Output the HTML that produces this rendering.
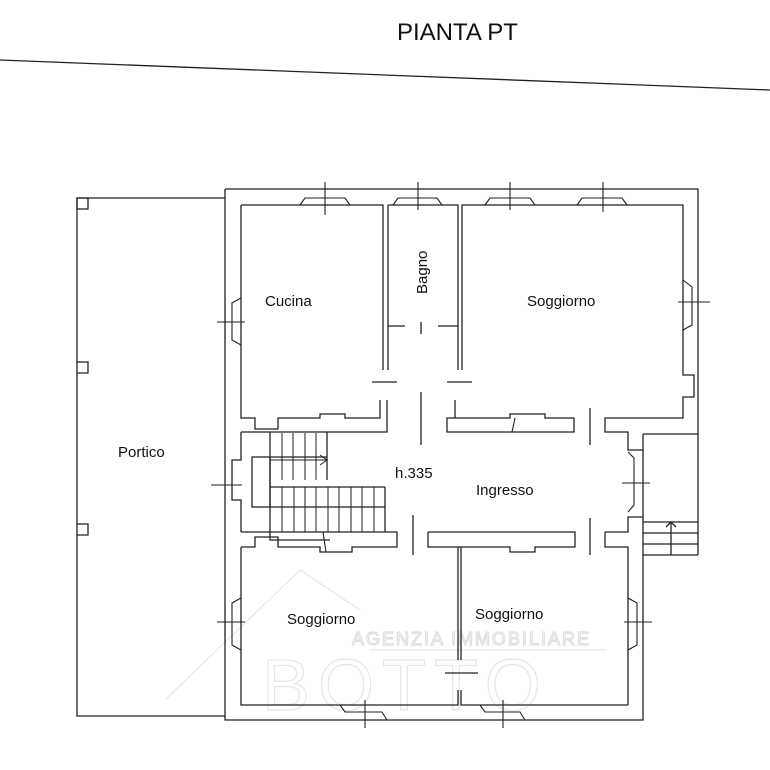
<!DOCTYPE html><html><head><style>body{margin:0;background:#fff}svg{display:block}text{font-family:"Liberation Sans",sans-serif;fill:#111}</style></head><body>
<svg width="770" height="770" viewBox="0 0 770 770" xmlns="http://www.w3.org/2000/svg">
<g fill="none" stroke="#e6e6e6" stroke-width="1.2">
<text x="352" y="645" font-size="18" style="fill:none;stroke:#e0e0e0;letter-spacing:2px">AGENZIA IMMOBILIARE</text>
<line x1="370" y1="650" x2="606" y2="650"/>
<text x="262" y="710" font-size="72" style="fill:none;stroke:#e6e6e6;letter-spacing:8px">BOTTO</text>
<polyline points="165,700 300,570 360,610"/>
</g>
<text x="397" y="40" font-size="24">PIANTA PT</text>
<line x1="0" y1="60" x2="770" y2="90" stroke="#222" stroke-width="1.3"/>
<g fill="none" stroke="#222" stroke-width="1.3">
<polyline points="225,198 77,198 77,716 225,716"/>
<rect x="77" y="198" width="11" height="11"/>
<polyline points="77,362 88,362 88,373 77,373"/>
<polyline points="77,524 88,524 88,535 77,535"/>
<polyline points="225,189 698,189 698,555"/>
<polyline points="225,189 225,720 643,720 643,434"/>
<polyline points="643,434 698,434"/>
<line x1="643" y1="522" x2="698" y2="522"/><line x1="643" y1="533" x2="698" y2="533"/><line x1="643" y1="544" x2="698" y2="544"/><line x1="643" y1="555" x2="698" y2="555"/>
<line x1="671" y1="522" x2="671" y2="555"/><polyline points="666,527 671,522 676,527"/>
<polyline points="241,205 383,205 383,370"/>
<polyline points="241,205 241,418 255,418 255,429 278,429 278,418 320,418 320,414 345,414 345,418 380,418 380,400"/>
<polyline points="241,432 387,432 387,400"/>
<polyline points="388,205 388,370"/>
<polyline points="388,205 458,205 458,370"/>
<polyline points="388,326 405,326"/><polyline points="438,326 458,326"/>
<line x1="421" y1="322" x2="421" y2="334"/>
<line x1="372" y1="382" x2="397" y2="382"/><line x1="447" y1="382" x2="472" y2="382"/>
<line x1="421" y1="392" x2="421" y2="445"/>
<polyline points="462,370 462,205 683,205 683,375 694,375 694,397 683,397 683,418 605,418 605,432 628,432 628,450 643,450"/>
<polyline points="455,400 455,418 510,418 510,414 545,414 545,418 574,418 574,432 447,432 447,418 455,418"/>
<line x1="590" y1="408" x2="590" y2="445"/>
<polyline points="241,432 241,460 232,460 232,500 241,500 241,532"/>
<rect x="252" y="457" width="18" height="50"/>
<polyline points="270,432 270,540 330,540"/>
<line x1="270" y1="457" x2="327" y2="457"/>
<line x1="270" y1="487" x2="385" y2="487"/>
<line x1="270" y1="507" x2="385" y2="507"/>
<line x1="327" y1="432" x2="327" y2="480"/>
<line x1="385" y1="487" x2="385" y2="532"/>
<g stroke-width="1">
<line x1="282" y1="433" x2="282" y2="480"/><line x1="293" y1="433" x2="293" y2="480"/><line x1="305" y1="433" x2="305" y2="480"/><line x1="316" y1="433" x2="316" y2="480"/>
<line x1="282" y1="487" x2="282" y2="532"/><line x1="294" y1="487" x2="294" y2="532"/><line x1="305" y1="487" x2="305" y2="532"/><line x1="316" y1="487" x2="316" y2="532"/><line x1="328" y1="487" x2="328" y2="532"/><line x1="339" y1="487" x2="339" y2="532"/><line x1="351" y1="487" x2="351" y2="532"/><line x1="362" y1="487" x2="362" y2="532"/><line x1="374" y1="487" x2="374" y2="532"/>
<polyline points="270,460 327,460"/><polyline points="320,455 327,460 320,465"/>
</g>
<line x1="413" y1="515" x2="413" y2="555"/>
<polyline points="241,532 397,532 397,547 352,547 352,552 320,552 320,547 278,547 278,537 255,537 255,547 241,547"/>
<polyline points="428,532 575,532 575,547 535,547 535,552 510,552 510,547 461,547 458,547 428,547 428,532"/>
<polyline points="605,532 628,532 628,517 643,517"/>
<polyline points="605,532 605,547 628,547 628,705"/>
<line x1="590" y1="518" x2="590" y2="555"/>
<polyline points="241,547 241,705 458,705 458,690"/>
<polyline points="461,690 461,705 628,705"/>
<line x1="458" y1="547" x2="458" y2="660"/><line x1="461" y1="547" x2="461" y2="660"/>
<line x1="445" y1="673" x2="478" y2="673"/>
<g stroke-width="1.1">
<polyline points="300,205 305,198 345,198 350,205"/><line x1="325" y1="182" x2="325" y2="215"/><line x1="310" y1="198" x2="340" y2="198"/>
<polyline points="393,205 398,198 437,198 442,205"/><line x1="418" y1="182" x2="418" y2="210"/>
<polyline points="485,205 490,198 530,198 535,205"/><line x1="510" y1="182" x2="510" y2="210"/>
<polyline points="577,205 582,198 622,198 627,205"/><line x1="603" y1="182" x2="603" y2="212"/>
<polyline points="241,298 232,303 232,340 241,345"/><line x1="217" y1="322" x2="245" y2="322"/>
<polyline points="683,280 692,287 692,325 683,330"/><line x1="678" y1="302" x2="710" y2="302"/>
<polyline points="628,452 634,458 634,505 628,512"/><line x1="622" y1="483" x2="650" y2="483"/>
<polyline points="241,598 232,603 232,645 241,650"/><line x1="217" y1="622" x2="245" y2="622"/>
<polyline points="628,598 637,603 637,645 628,650"/><line x1="624" y1="622" x2="652" y2="622"/>
<polyline points="340,705 345,712 382,712 387,720"/><line x1="365" y1="700" x2="365" y2="728"/>
<polyline points="480,705 485,712 520,712 525,720"/><line x1="503" y1="700" x2="503" y2="728"/>
<line x1="211" y1="485" x2="242" y2="485"/>
<polyline points="323,532 326,552"/><polyline points="512,432 515,418"/>
</g>
</g>
<text x="265" y="306" font-size="15">Cucina</text>
<text x="427" y="294" font-size="15" transform="rotate(-90 427 294)">Bagno</text>
<text x="527" y="306" font-size="15">Soggiorno</text>
<text x="118" y="457" font-size="15">Portico</text>
<text x="395" y="478" font-size="15">h.335</text>
<text x="476" y="495" font-size="15">Ingresso</text>
<text x="287" y="624" font-size="15">Soggiorno</text>
<text x="475" y="619" font-size="15">Soggiorno</text>
</svg></body></html>
